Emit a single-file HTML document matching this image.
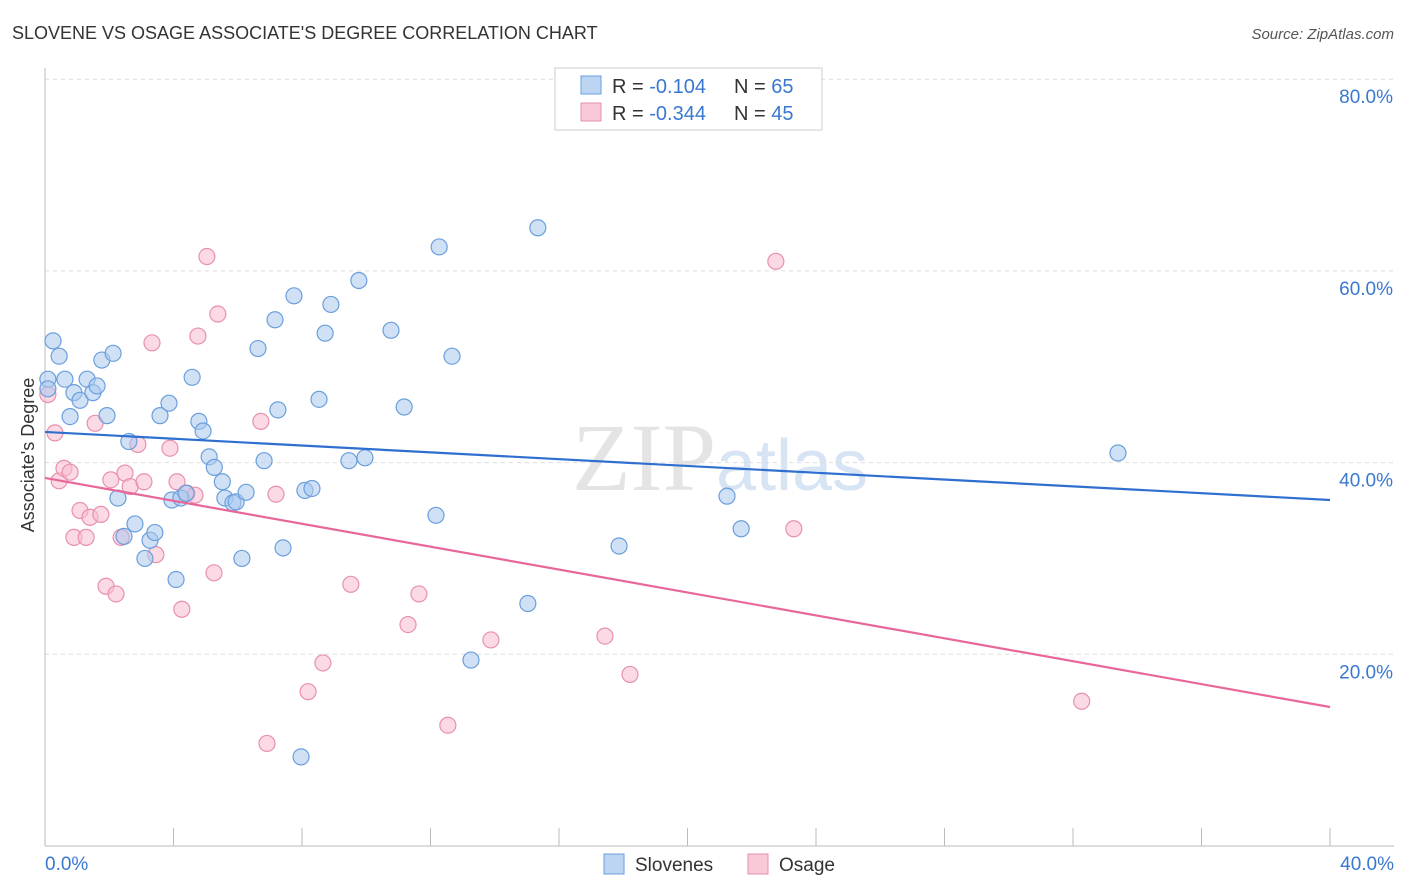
<!DOCTYPE html>
<html><head><meta charset="utf-8">
<style>
body{margin:0;background:#fff;font-family:"Liberation Sans",sans-serif;}
#wrap{position:relative;width:1406px;height:892px;overflow:hidden;}
</style></head>
<body>
<div id="wrap">
<svg id="chart" width="1406" height="892" xmlns="http://www.w3.org/2000/svg">
<text x="12" y="39" font-size="18" fill="#333">SLOVENE VS OSAGE ASSOCIATE'S DEGREE CORRELATION CHART</text>
<text x="1394" y="39" font-size="15" fill="#555" font-style="italic" text-anchor="end">Source: ZipAtlas.com</text>
<text x="720" y="490" font-size="96" fill="#e4e4e4" text-anchor="middle" font-family="Liberation Serif,serif">ZIP<tspan fill="#d6e4f3" font-family="Liberation Sans,sans-serif" font-size="72">atlas</tspan></text>
<g id="grid"></g>
<g id="axes"></g>
<g id="pts"></g>
<g id="trends"></g>
<text transform="translate(34,455) rotate(-90)" font-size="18" fill="#333" text-anchor="middle">Associate's Degree</text>
<g>
<rect x="555" y="68" width="267" height="62" fill="#fff" stroke="#ccc"/>
<rect x="581" y="76" width="20" height="18" fill="#bcd5f3" stroke="#6a9fdc"/>
<rect x="581" y="103" width="20" height="18" fill="#f9c9d7" stroke="#e890ad"/>
<text x="612" y="93" font-size="20" fill="#333">R = <tspan fill="#3a78d0">-0.104</tspan><tspan x="734">N = </tspan><tspan fill="#3a78d0">65</tspan></text>
<text x="612" y="120" font-size="20" fill="#333">R = <tspan fill="#3a78d0">-0.344</tspan><tspan x="734">N = </tspan><tspan fill="#3a78d0">45</tspan></text>
</g>
<g>
<rect x="604" y="854" width="20" height="20" fill="#bcd5f3" stroke="#6a9fdc"/>
<text x="635" y="871" font-size="19" fill="#333">Slovenes</text>
<rect x="748" y="854" width="20" height="20" fill="#f9c9d7" stroke="#e890ad"/>
<text x="779" y="871" font-size="19" fill="#333">Osage</text>
</g>
</svg>
</div>
<script>
const yTicks=[20,40,60,80];
const yTickLabels=["20.0%","40.0%","60.0%","80.0%"];
const xTickLabels=["0.0%","40.0%"];
const sloveneX=[0.25,0.44,0.09,0.62,0.78,0.90,1.09,1.31,1.49,1.62,1.77,1.93,2.12,2.27,2.46,2.61,2.80,3.11,3.27,3.42,3.58,3.86,3.95,4.08,4.23,4.39,4.58,4.79,4.92,5.11,5.27,5.52,5.60,5.85,5.95,6.13,6.26,6.63,6.82,7.16,7.25,7.41,7.75,7.97,8.09,8.31,8.53,8.72,8.90,9.46,9.77,9.96,10.77,11.18,12.17,12.27,12.67,13.26,15.03,15.34,17.87,21.23,21.67,33.40,0.09];
const sloveneY=[52.7,51.1,48.7,48.7,44.8,47.3,46.5,48.7,47.3,48.0,50.7,44.9,51.4,36.3,32.3,42.2,33.6,30.0,31.9,32.7,44.9,46.2,36.1,27.8,36.3,36.8,48.9,44.3,43.3,40.6,39.5,38.0,36.3,35.8,35.9,30.0,36.9,51.9,40.2,54.9,45.5,31.1,57.4,9.3,37.1,37.3,46.6,53.5,56.5,40.2,59.0,40.5,53.8,45.8,34.5,62.5,51.1,19.4,25.3,64.5,31.3,36.5,33.1,41.0,47.7];
const osageX=[0.09,0.31,0.44,0.59,0.78,0.90,1.09,1.28,1.40,1.56,1.74,1.90,2.05,2.21,2.37,2.49,2.65,2.89,3.08,3.33,3.45,3.89,4.11,4.26,4.42,4.67,4.76,5.04,5.26,5.38,6.72,6.91,7.19,8.19,8.65,9.52,11.30,11.64,12.54,13.88,17.43,18.21,22.75,23.31,32.27];
const osageY=[47.1,43.1,38.1,39.4,39.0,32.2,35.0,32.2,34.3,44.1,34.6,27.1,38.2,26.3,32.2,38.9,37.5,41.9,38.0,52.5,30.4,41.5,38.0,24.7,36.8,36.6,53.2,61.5,28.5,55.5,44.3,10.7,36.7,16.1,19.1,27.3,23.1,26.3,12.6,21.5,21.9,17.9,61.0,33.1,15.1];
const blueTrend=[43.2,36.1];
const pinkTrend=[38.4,14.5];
const X0=45,X1=1330,Y0=846,PY=191.7/20;
const sx=v=>X0+(X1-X0)*v/40, sy=v=>Y0-v*PY;
const NS="http://www.w3.org/2000/svg";
function mk(tag,attrs,parent){const e=document.createElementNS(NS,tag);for(const k in attrs)e.setAttribute(k,attrs[k]);parent.appendChild(e);return e;}
const grid=document.getElementById('grid'),axes=document.getElementById('axes'),pts=document.getElementById('pts'),tr=document.getElementById('trends');
yTicks.forEach((t,i)=>{
 const l=mk('line',{x1:45,x2:1394,y1:sy(t),y2:sy(t),stroke:'#ddd','stroke-dasharray':'4,4'},grid);
 
 
 const tx=mk('text',{x:1393,y:sy(t)+24,'font-size':19,fill:'#3a78d0','text-anchor':'end'},axes);
 tx.textContent=yTickLabels[i];
 
 
});
const ax=mk('line',{x1:45,x2:45,y1:68,y2:846,stroke:'#bbb'},axes);


const bx=mk('line',{x1:45,x2:1394,y1:846,y2:846,stroke:'#bbb'},axes);


for(let i=0;i<=10;i++){
 const t=mk('line',{x1:sx(i*4),x2:sx(i*4),y1:828,y2:846,stroke:'#bbb'},axes);
 
 
}
const xl0=mk('text',{x:45,y:870,'font-size':19,fill:'#3a78d0'},axes);xl0.textContent=xTickLabels[0];


const xl1=mk('text',{x:1394,y:870,'font-size':19,fill:'#3a78d0','text-anchor':'end'},axes);xl1.textContent=xTickLabels[1];


function drawPts(xs,ys,fill,stroke,name){
 xs.forEach((x,i)=>{
  const c=mk('circle',{cx:sx(x),cy:sy(ys[i]),r:8,fill:fill,'fill-opacity':0.55,stroke:stroke,'stroke-width':1.2},pts);
  
  
 });
}
drawPts(osageX,osageY,'#f7bcd0','#e890ad','osage-point');
drawPts(sloveneX,sloveneY,'#a9c9ef','#6a9fdc','slovene-point');
const bl=mk('line',{x1:sx(0),y1:sy(blueTrend[0]),x2:sx(40),y2:sy(blueTrend[1]),stroke:'#2f6fd0','stroke-width':2.2},tr);


const pl=mk('line',{x1:sx(0),y1:sy(pinkTrend[0]),x2:sx(40),y2:sy(pinkTrend[1]),stroke:'#e8679a','stroke-width':2.2},tr);


</script>
</body></html>
